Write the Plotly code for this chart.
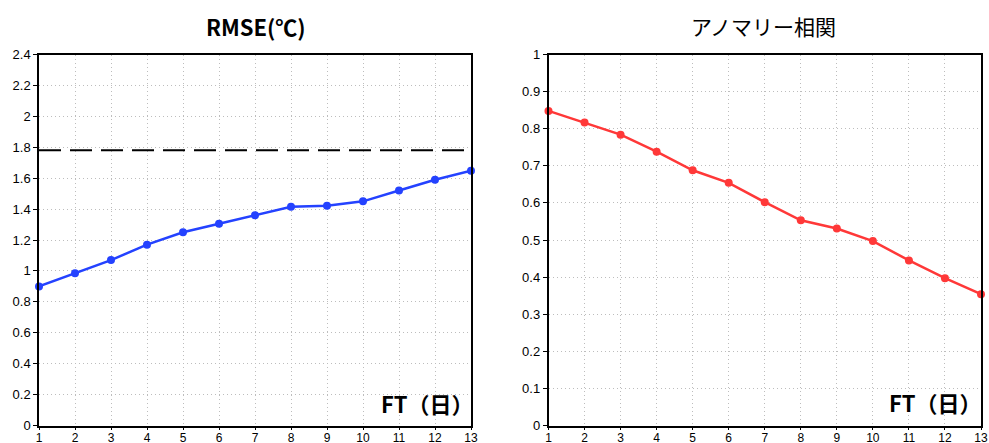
import plotly.graph_objects as go

ft_days = list(range(1, 14))
rmse = [0.90, 0.985, 1.07, 1.17, 1.25, 1.305, 1.36, 1.415, 1.422, 1.45, 1.52, 1.59, 1.648]
rmse_ref = 1.78
acc = [0.848, 0.817, 0.784, 0.738, 0.688, 0.654, 0.602, 0.553, 0.531, 0.497, 0.445, 0.397, 0.354]

W, H = 989, 443


def px(xp):
    return xp / W


def py(yp):
    return 1 - yp / H


fig = go.Figure()

fig.add_trace(go.Scatter(x=ft_days, y=rmse, mode="lines+markers",
                         line=dict(color="#2442ff", width=2.5),
                         marker=dict(color="#2442ff", size=8),
                         xaxis="x", yaxis="y", showlegend=False, cliponaxis=False))
fig.add_trace(go.Scatter(x=[ft_days[0], ft_days[-1]], y=[rmse_ref, rmse_ref], mode="lines",
                         line=dict(color="black", width=2, dash="22px,9px"),
                         xaxis="x", yaxis="y", showlegend=False))
fig.add_trace(go.Scatter(x=ft_days, y=acc, mode="lines+markers",
                         line=dict(color="#ff3838", width=2.5),
                         marker=dict(color="#ff3838", size=8),
                         xaxis="x2", yaxis="y2", showlegend=False, cliponaxis=False))

font_family = "Noto Sans CJK JP, DejaVu Sans, sans-serif"
tick_family = "Liberation Sans, Arial, sans-serif"
common_x = dict(range=[1, 13], tickmode="array", tickvals=ft_days,
                ticks="outside", ticklen=3, tickcolor="black",
                ticklabelstandoff=-3,
                showline=True, linecolor="black", linewidth=1.5, mirror=True,
                showgrid=True, gridcolor="#bdbdbd", griddash="1px,3px", gridwidth=1,
                zeroline=False, automargin=False,
                tickfont=dict(size=12, color="black", family=tick_family))
common_y = dict(ticks="outside", ticklen=4, tickcolor="black",
                showline=True, linecolor="black", linewidth=1.5, mirror=True,
                showgrid=True, gridcolor="#bdbdbd", griddash="1px,3px", gridwidth=1,
                zeroline=False, automargin=False,
                tickfont=dict(size=13, color="black", family=tick_family))

y0 = py(425.5)
y1 = py(54.5)

fig.update_layout(
    width=W, height=H,
    margin=dict(l=0, r=0, t=0, b=0),
    paper_bgcolor="white", plot_bgcolor="white",
    xaxis=dict(domain=[px(39), px(471)], anchor="y", **common_x),
    yaxis=dict(domain=[y0, y1], anchor="x", range=[0, 2.4],
               tickvals=[0, 0.2, 0.4, 0.6, 0.8, 1, 1.2, 1.4, 1.6, 1.8, 2, 2.2, 2.4],
               ticktext=["0", "0.2", "0.4", "0.6", "0.8", "1", "1.2", "1.4", "1.6", "1.8", "2", "2.2", "2.4"],
               **common_y),
    xaxis2=dict(domain=[px(548.5), px(981)], anchor="y2", **common_x),
    yaxis2=dict(domain=[y0, y1], anchor="x2", range=[0, 1],
                tickvals=[0, 0.1, 0.2, 0.3, 0.4, 0.5, 0.6, 0.7, 0.8, 0.9, 1],
                ticktext=["0", "0.1", "0.2", "0.3", "0.4", "0.5", "0.6", "0.7", "0.8", "0.9", "1"],
                **common_y),
    annotations=[
        dict(text="<b>RMSE(℃)</b>", x=px(256), y=py(26), xref="paper", yref="paper",
             showarrow=False, font=dict(size=22, color="black", family=font_family),
             xanchor="center", yanchor="middle"),
        dict(text="アノマリー相関", x=px(763), y=py(26), xref="paper", yref="paper",
             showarrow=False, font=dict(size=21, color="black", family=font_family),
             xanchor="center", yanchor="middle"),
        dict(text="<b>FT（日）</b>", x=px(476), y=py(403), xref="paper", yref="paper",
             showarrow=False, font=dict(size=22, color="black", family=font_family),
             xanchor="right", yanchor="middle"),
        dict(text="<b>FT（日）</b>", x=px(984), y=py(402), xref="paper", yref="paper",
             showarrow=False, font=dict(size=22, color="black", family=font_family),
             xanchor="right", yanchor="middle"),
    ],
)

fig.write_html(
    "out.html",
    config={"displayModeBar": False},
    post_script="document.body.style.margin='0';document.body.style.overflow='hidden';",
)
